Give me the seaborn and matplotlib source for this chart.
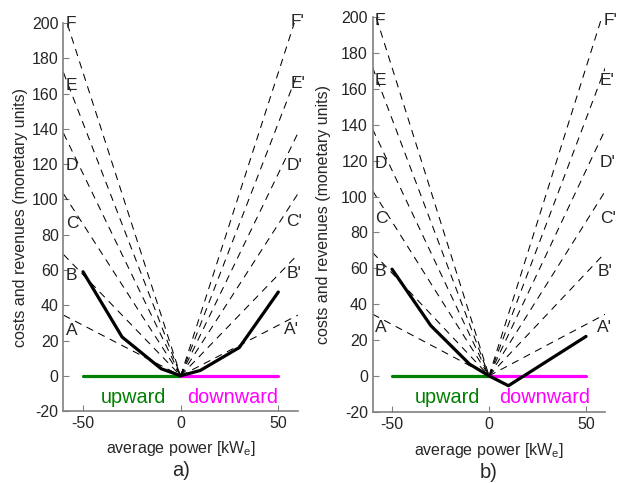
import numpy as np
import pandas as pd
import seaborn as sns
import matplotlib.pyplot as plt

# values
line_names = ["A", "B", "C", "D", "E", "F"]
level_at_60 = [34.4, 68.8, 103.2, 137.6, 172.0, 206.4]   # dashed price lines, value at |P| = 60 kW

a_power = [-50, -30, -10, 0, 10, 30, 50]
a_cost = [59, 22, 4, 0, 3, 16, 47.5]
b_power = [-50, -30, -10, 0, 10, 50]
b_cost = [59.5, 28, 6.5, 0, -5.5, 22]

# label positions for the dashed line names
a_left_lab_y = [25.5, 57, 86.4, 119, 164.8, 200]
a_right_lab_y = [26.5, 58, 87.3, 119.5, 165.7, 201]
a_right_lab_x = [53, 54, 54, 54, 56.5, 56.5]
b_left_lab_y = [27, 58, 88, 118.7, 165, 198.4]
b_right_lab_y = [27, 58, 88, 119, 165, 198]
b_right_lab_x = [55.5, 56, 57.2, 57.2, 57.2, 58.9]

sns.set_style("ticks")
plt.rcParams['font.family'] = ['Liberation Sans', 'DejaVu Sans']
plt.rcParams['mathtext.fontset'] = 'custom'
plt.rcParams['mathtext.rm'] = 'Liberation Sans'
plt.rcParams['mathtext.it'] = 'Liberation Sans'
plt.rcParams['axes.unicode_minus'] = False

fig = plt.figure(figsize=(6.2, 4.83), dpi=100)
ax_a = fig.add_axes([0.1024, 0.149, 0.378, 0.803])
ax_b = fig.add_axes([0.601, 0.1476, 0.3755, 0.8166])

dash = (0, (7, 5.5))


def draw_panel(ax, power, cost, left_y, right_y, right_x, tag, ylab_x, word_x):
    for lev in level_at_60:
        sns.lineplot(x=[-60, 0], y=[lev, 0], ax=ax, color='black', lw=0.75,
                     linestyle=dash, estimator=None, sort=False)
        sns.lineplot(x=[0, 60], y=[0, lev], ax=ax, color='black', lw=0.75,
                     linestyle=dash, estimator=None, sort=False)
    sns.lineplot(x=[-50, 0], y=[0, 0], ax=ax, color='#008000', lw=2.3, estimator=None)
    sns.lineplot(x=[0, 50], y=[0, 0], ax=ax, color='#ff00ff', lw=2.3, estimator=None)
    sns.lineplot(x=power, y=cost, ax=ax, color='black', lw=2.3, estimator=None, sort=False)

    for name, yl in zip(line_names, left_y):
        ax.text(-58.8, yl, name, fontsize=12.5, ha='left', va='center')
    for name, yl, xr in zip(line_names, right_y, right_x):
        ax.text(xr, yl, name + "'", fontsize=12.5, ha='left', va='center')

    ax.text(word_x[0], -12.2, 'upward', color='#008000', fontsize=14.3, ha='center', va='center')
    ax.text(word_x[1], -12.2, 'downward', color='#ff00ff', fontsize=14.3, ha='center', va='center')

    ax.set_xlim(-60, 60)
    ax.set_ylim(-20, 200)
    ax.set_xticks([-50, 0, 50])
    ax.set_yticks(np.arange(-20, 201, 20))
    ax.tick_params(direction='in', length=4, width=0.8, color='#808080',
                   labelsize=11.5, labelcolor='#262626')
    sns.despine(ax=ax)
    for s in ['left', 'bottom']:
        ax.spines[s].set_color('#808080')
        ax.spines[s].set_linewidth(1.2)
    ax.set_xlabel('average power [kW$_\\mathrm{e}$]', fontsize=11.5, color='#262626')
    ax.set_ylabel('costs and revenues (monetary units)', fontsize=11.5, color='#262626')
    ax.xaxis.set_label_coords(0.5, -0.073)
    ax.yaxis.set_label_coords(ylab_x, 0.5)
    ax.text(0.5, -0.153, tag, transform=ax.transAxes, fontsize=14.5,
            ha='center', va='center')


draw_panel(ax_a, a_power, a_cost, a_left_lab_y, a_right_lab_y, a_right_lab_x,
           'a)', -0.15, [-24, 26.8])
draw_panel(ax_b, b_power, b_cost, b_left_lab_y, b_right_lab_y, b_right_lab_x,
           'b)', -0.178, [-21.4, 28.5])

plt.savefig('out.png', dpi=100)
